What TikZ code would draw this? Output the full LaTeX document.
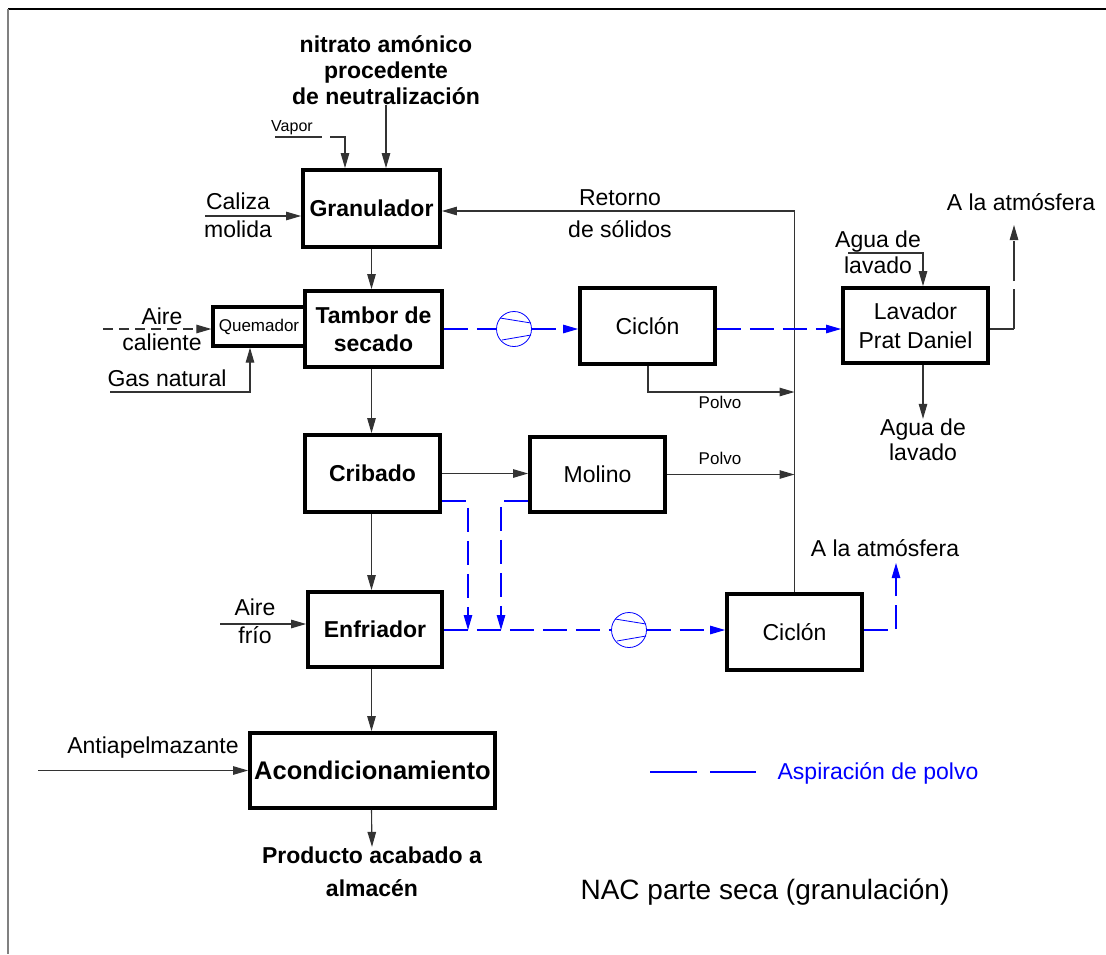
\documentclass[tikz,border=0pt]{standalone}
\usepackage{fontspec}
\setmainfont{Liberation Sans}
\usetikzlibrary{arrows.meta}
\newcommand{\myfs}[2]{\fontsize{#1}{#2}\selectfont}
\begin{document}
\begin{tikzpicture}[x=1pt,y=-1pt]
\tikzset{
 tip/.style={-{Triangle[length=15pt,width=8.5pt]}},
 box/.style={draw, line width=3.8pt, inner sep=0pt, align=center, font=\myfs{23}{28}},
 bbox/.style={box, font=\myfs{23}{28}\bfseries},
 ln/.style={draw=black!80, line width=1.1pt},
 arr/.style={ln, tip},
 bl/.style={draw=blue, line width=1.1pt, dash pattern=on 24pt off 9pt},
 blarr/.style={bl, tip},
 lbl/.style={align=center, inner sep=0pt, font=\myfs{23}{28}},
 small/.style={align=center, inner sep=0pt, font=\myfs{17}{20}},
 fan/.style={draw=blue, circle, minimum size=35pt, inner sep=0pt, line width=0.8pt},
}
\useasboundingbox (0,0) rectangle (1106,954);
% frame
\draw[line width=2pt] (8,9) -- (1106,9);
\draw[gray, line width=2pt] (8,9) -- (8,954);

% boxes
\node[box, line width=3.2pt, minimum width=92pt, minimum height=39pt, font=\myfs{17}{20}] (quem) at (259,326.5) {Quemador};
\node[bbox, minimum width=137pt, minimum height=77pt] (gran) at (371.5,208.5) {Granulador};
\node[bbox, minimum width=137pt, minimum height=76pt] (tambor) at (373.5,329) {Tambor de\\secado};
\node[box, minimum width=135pt, minimum height=76pt] (cicl1) at (647.5,326) {Ciclón};
\node[box, minimum width=145pt, minimum height=75pt, font=\myfs{23}{29}] (lav) at (915.5,325.5) {Lavador\\Prat Daniel};
\node[bbox, minimum width=135pt, minimum height=77pt] (crib) at (372.5,473.5) {Cribado};
\node[box, minimum width=135pt, minimum height=75pt] (mol) at (597.5,474.5) {Molino};
\node[bbox, minimum width=134pt, minimum height=75pt] (enf) at (375,629.5) {Enfriador};
\node[box, minimum width=135pt, minimum height=76pt] (cicl2) at (794.5,632) {Ciclón};
\node[bbox, minimum width=245pt, minimum height=75pt, font=\myfs{25.5}{30}\bfseries] (acond) at (372.5,770.5) {Acondicionamiento};

% fans
\node[fan] (fan1) at (514,329) {};
\node[fan] (fan2) at (629,630) {};
\foreach \f in {fan1,fan2}{
  \draw[blue, line width=0.8pt] ([shift={(-14,-11)}]\f.center) -- ([shift={(17,-6)}]\f.center);
  \draw[blue, line width=0.8pt] ([shift={(-12,11)}]\f.center) -- ([shift={(17,6)}]\f.center);
}

% labels
\node[lbl, font=\myfs{23}{26}\bfseries] (nitr) at (386,70) {nitrato amónico\\procedente\\de neutralización};
\node[small, font=\myfs{16}{19}] (vap) at (292,128) {Vapor};
\node[lbl] (cal) at (238,215) {Caliza\\molida};
\node[lbl, font=\myfs{23}{32}] (ret) at (620,214) {Retorno\\de sólidos};
\node[lbl, font=\myfs{23}{26}] (aguain) at (878,252) {Agua de\\lavado};
\node[lbl] (atm1) at (1021,202) {A la atmósfera};
\node[lbl, font=\myfs{23}{25}] (aguaout) at (923,440) {Agua de\\lavado};
\node[lbl, font=\myfs{23}{26}] (ac) at (162,329) {Aire\\caliente};
\node[lbl] (gas) at (167,378) {Gas natural};
\node[small] (polvo1) at (720,402) {Polvo};
\node[small] (polvo2) at (720,458) {Polvo};
\node[lbl] (af) at (255,621) {Aire\\frío};
\node[lbl] (atm2) at (885,548) {A la atmósfera};
\node[lbl] (anti) at (153,748) {Antiapelmazante};
\node[lbl, font=\myfs{23}{33}\bfseries] (prod) at (372,872) {Producto acabado a\\almacén};
\node[lbl, text=blue] (leg) at (878,773) {Aspiración de polvo};
\node[lbl, font=\myfs{28}{32}] (title) at (765,892) {NAC parte seca (granulación)};

% coordinates
\coordinate (vp1) at (275,137);
\coordinate (vp2) at (345,137);
\coordinate (c1) at (205,216);
\coordinate (ac1) at (103,329);
\coordinate (g1) at (110,392);
\coordinate (g2) at (250,392);
\coordinate (p1) at (648,392);
\coordinate (w1) at (848,253);
\coordinate (w2) at (923,253);
\coordinate (a1) at (1014,225);
\coordinate (a2) at (896,563);
\coordinate (b1) at (468,501);
\coordinate (b2) at (501,501);
\coordinate (lg1) at (650,772);
\coordinate (lg2) at (756,772);

% main flow
\draw[arr] (gran.south) -- (gran.south |- tambor.north);
\draw[arr] (gran.south |- tambor.south) -- (gran.south |- crib.north);
\draw[arr] (gran.south |- crib.south) -- (gran.south |- enf.north);
\draw[arr] (gran.south |- enf.south) -- (gran.south |- acond.north);
\draw[arr] (gran.south |- acond.south) -- (prod.north);
\draw[arr] (crib.east) -- (crib.east -| mol.west);

% inputs
\draw[arr] (nitr.south) -- (nitr.south |- gran.north);
\draw[ln, dash pattern=on 47pt off 8pt, tip] (vp1) -- (vp2) -- (vp2 |- gran.north);
\draw[arr] (c1) -- (c1 -| gran.west);
\draw[ln, dash pattern=on 10pt off 6pt, tip] (ac1) -- (ac1 -| quem.west);
\draw[arr] (g1) -- (g2) -- (g2 |- quem.south);
\draw[arr] ([xshift=-86pt]enf.west |- 0,624) -- (enf.west |- 0,624);
\draw[arr] ([xshift=-210pt]acond.west) -- (acond.west);

% returns
\draw[arr] (cicl2.north) |- (gran.east |- 0,211);
\draw[arr] (cicl1.south -| p1) -- (p1) -- (p1 -| cicl2.north);
\draw[arr] (mol.east) -- (mol.east -| cicl2.north);

% lavador
\draw[arr] (w1) -- (w2) -- (w2 |- lav.north);
\draw[arr] (w2 |- lav.south) -- (w2 |- aguaout.north);
\draw[ln] (lav.east |- 0,329) -- (a1 |- 0,329);
\draw[ln, dash pattern=on 40pt off 8pt, tip] (a1 |- 0,329) -- (a1);

% dust aspiration
\draw[bl] (tambor.east |- fan1) -- (fan1.west);
\draw[blarr] (fan1.east) -- (fan1 -| cicl1.west);
\draw[blarr] (cicl1.east |- fan1) -- (lav.west |- fan1);
\draw[blarr] (crib.east |- b1) -- (b1) -- (b1 |- fan2);
\draw[blarr] (mol.west |- b2) -- (b2) -- (b2 |- fan2);
\draw[bl] (enf.east |- fan2) -- (fan2.west);
\draw[blarr] (fan2.east) -- (fan2 -| cicl2.west);
\draw[blarr] (cicl2.east |- fan2) -| (a2);

% legend
\draw[blue, line width=1.1pt, dash pattern=on 47pt off 13pt] (lg1) -- (lg2);
\end{tikzpicture}
\end{document}
